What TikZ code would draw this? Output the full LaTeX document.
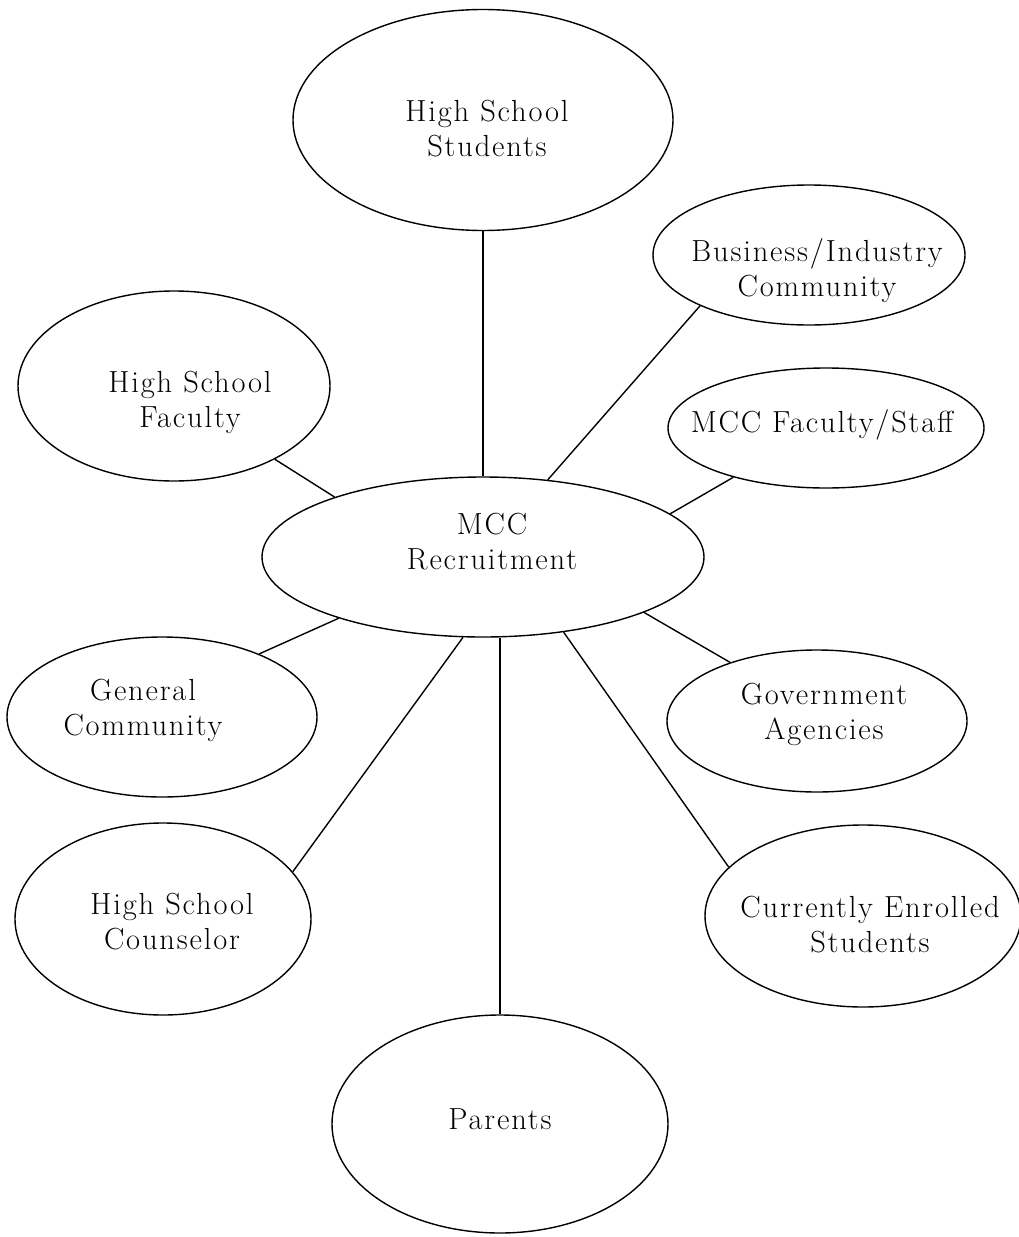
\documentclass[tikz,border=0pt]{standalone}
\usepackage{fontspec}
\setmainfont{Latin Modern Roman}[LetterSpace=6]
\usetikzlibrary{shapes.geometric}
\begin{document}
\begin{tikzpicture}[x=1pt,y=-1pt,
  oval/.style={draw, ellipse, inner sep=0pt, line width=1.4pt},
  lbl/.style={align=center, inner sep=0pt, font=\fontsize{30.5}{35}\selectfont},
  link/.style={line width=1.4pt}]
\fill[white] (0,0) rectangle (1018,1237);
\useasboundingbox (0,0) rectangle (1018,1237);

% ellipses
\node[oval, minimum width=380pt, minimum height=221pt] (hss) at (483,120) {};
\node[oval, minimum width=312pt, minimum height=140pt] (bi)  at (809,255) {};
\node[oval, minimum width=312pt, minimum height=190pt] (hsf) at (174,386) {};
\node[oval, minimum width=316pt, minimum height=120pt] (mfs) at (826,428) {};
\node[oval, minimum width=442pt, minimum height=160pt] (mcc) at (483,557) {};
\node[oval, minimum width=310pt, minimum height=160pt] (gc)  at (162,717) {};
\node[oval, minimum width=300pt, minimum height=142pt] (ga)  at (817,721) {};
\node[oval, minimum width=296pt, minimum height=192pt] (hsc) at (163,919) {};
\node[oval, minimum width=316pt, minimum height=182pt] (ces) at (863,916) {};
\node[oval, minimum width=336pt, minimum height=218pt] (par) at (500,1124) {};

% labels
\node[lbl] (hss-t) at (487,132) {High School\strut\\Students\strut};
\node[lbl] (bi-t)  at (817,272) {Business/Industry\strut\\Community\strut};
\node[lbl] (hsf-t) at (190,403) {High School\strut\\Faculty\strut};
\node[lbl] (mfs-t) at (822,425) {MCC Faculty/Staff\strut};
\node[lbl] (mcc-t) at (492,545) {MCC\strut\\Recruitment\strut};
\node[lbl] (gc-t)  at (143,711) {General\strut\\Community\strut};
\node[lbl] (ga-t)  at (824,715) {Government\strut\\Agencies\strut};
\node[lbl] (hsc-t) at (172,925) {High School\strut\\Counselor\strut};
\node[lbl] (ces-t) at (870,928) {Currently Enrolled\strut\\Students\strut};
\node[lbl] (par-t) at (500,1122) {Parents\strut};

% connectors
\draw[link] (hss.south) -- (mcc.north);
\draw[link] (mcc.50) -- (bi.205);
\draw[link] (hsf.-36) -- (mcc.158);
\draw[link] (mfs.208) -- (mcc.13);
\draw[link] (gc.33) -- (mcc.203);
\draw[link] (mcc.-19) -- (ga.146);
\draw[link] (mcc.-104) -- (hsc.20);
\draw[link] (mcc.south -| par.north) -- (par.north);
\draw[link] (mcc.-43) -- (ces.160);
\end{tikzpicture}
\end{document}
